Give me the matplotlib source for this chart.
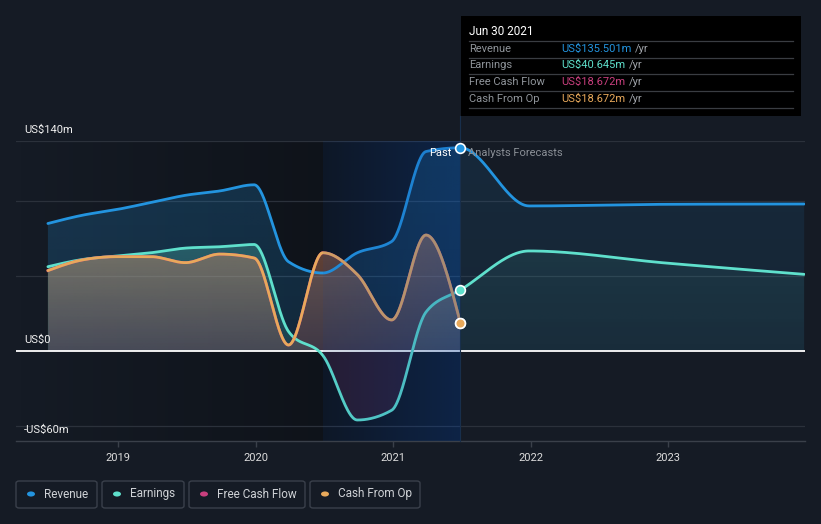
import numpy as np
import matplotlib
matplotlib.use("Agg")
import matplotlib.pyplot as plt
from matplotlib.colors import to_rgb
from matplotlib.patches import Rectangle, FancyBboxPatch, Circle
from matplotlib.transforms import blended_transform_factory

# ---------------- data ----------------
past_x = [2018.49, 2018.74, 2018.99, 2019.24, 2019.49, 2019.74, 2019.99,
          2020.24, 2020.49, 2020.74, 2020.99, 2021.24, 2021.49]
forecast_x = [2021.99, 2022.99, 2023.99]

revenue_past = [85.0, 90.5, 94.3, 99.0, 103.8, 106.7, 110.8, 59.5, 52.0, 65.5, 73.0, 133.0, 135.501]
revenue_forecast = [96.7, 97.8, 98.0]
earnings_past = [56.2, 61.0, 63.3, 65.5, 68.6, 69.5, 71.0, 13.0, -3.0, -46.0, -39.5, 26.0, 40.645]
earnings_forecast = [66.7, 58.6, 51.1]
fcf_past = [53.6, 60.7, 62.9, 62.9, 58.9, 64.6, 62.0, 4.0, 65.5, 51.0, 20.7, 77.3, 18.672]
cfo_past = [53.6, 60.7, 62.9, 62.9, 58.9, 64.6, 62.0, 4.0, 65.5, 51.0, 20.7, 77.3, 18.672]

year_ticks = [2019, 2020, 2021, 2022, 2023]
grid_values = [140, 100, 50, -50]
y_labels = [(140, "US$140m"), (0, "US$0"), (-60, "-US$60m")]
series_names = ["Revenue", "Earnings", "Free Cash Flow", "Cash From Op"]
tooltip_title = "Jun 30 2021"
tooltip_values = ["US$135.501m", "US$40.645m", "US$18.672m", "US$18.672m"]

C_REV = "#2394df"
C_EARN = "#5fe0cc"
C_FCF = "#c93f7e"
C_CFO = "#e8a95b"
colors = [C_REV, C_EARN, C_FCF, C_CFO]
BG = "#151b25"

W, H = 821, 524
X0, X1 = 2018.258, 2023.996
NOW = past_x[-1]
BAND0 = past_x[-5]


def fx(px):
    return px / W


def fy(py):
    return 1 - py / H


def monotone(x, y, n=60):
    """d3 curveMonotoneX style cubic Hermite smoothing of a polyline."""
    x = np.asarray(x, float)
    y = np.asarray(y, float)
    h = np.diff(x)
    s = np.diff(y) / h
    m = np.zeros_like(y)
    for i in range(1, len(x) - 1):
        p = (s[i - 1] * h[i] + s[i] * h[i - 1]) / (h[i - 1] + h[i])
        m[i] = (np.sign(s[i - 1]) + np.sign(s[i])) * min(abs(s[i - 1]), abs(s[i]), 0.5 * abs(p))
    m[0] = (3 * s[0] - m[1]) / 2
    m[-1] = (3 * s[-1] - m[-2]) / 2
    xs, ys = [], []
    for i in range(len(h)):
        t = np.linspace(0, 1, n, endpoint=(i == len(h) - 1))
        h00 = 2 * t**3 - 3 * t**2 + 1
        h10 = t**3 - 2 * t**2 + t
        h01 = -2 * t**3 + 3 * t**2
        h11 = t**3 - t**2
        xs.append(x[i] + t * h[i])
        ys.append(h00 * y[i] + h10 * h[i] * m[i] + h01 * y[i + 1] + h11 * h[i] * m[i + 1])
    return np.concatenate(xs), np.concatenate(ys)


def grad_fill(ax, x, ytop, ybot, color, a_low, a_high, v_low, v_high, zorder):
    coll = ax.fill_between(x, ytop, ybot, facecolor="none", edgecolor="none", lw=0)
    paths = coll.get_paths()
    if not paths:
        return
    ny = 200
    img = np.zeros((ny, 2, 4))
    img[..., :3] = to_rgb(color)
    img[..., 3] = np.linspace(a_low, a_high, ny)[:, None]
    im = ax.imshow(img, extent=[X0, X1, v_low, v_high], origin="lower",
                   aspect="auto", interpolation="bilinear", zorder=zorder)
    im.set_clip_path(paths[0], transform=ax.transData)
    coll.remove()


fig = plt.figure(figsize=(W / 100, H / 100), dpi=100)
fig.patch.set_facecolor(BG)
plt.rcParams["font.family"] = ["Roboto", "DejaVu Sans"]

ax = fig.add_axes([fx(16), fy(441), (805 - 16) / W, 300 / H])
ax.set_facecolor("none")
ax.set_xlim(X0, X1)
ax.set_ylim(-60, 140)
for sp in ["top", "right", "left"]:
    ax.spines[sp].set_visible(False)
ax.spines["bottom"].set_color("#3a404a")
ax.spines["bottom"].set_linewidth(1.0)
ax.set_yticks([])
ax.set_xticks(year_ticks)
ax.set_xticklabels([str(y) for y in year_ticks])
ax.tick_params(axis="x", length=4, width=1, color="#3a404a", labelcolor="#dcdcdc",
               labelsize=8, pad=4.5)

# past-darkening horizontal gradient
dark = np.zeros((2, 200, 4))
dark[..., 3] = np.linspace(0.0, 0.30, 200)[None, :]
ax.imshow(dark, extent=[X0, BAND0, -60, 140], origin="lower", aspect="auto",
          interpolation="bilinear", zorder=0.2)
ax.add_patch(Rectangle((BAND0, -60), NOW - BAND0, 200, facecolor="black", alpha=0.30,
                       lw=0, zorder=0.2))

# grid
for g in grid_values:
    ax.axhline(g, color="#2b313b", lw=0.9, zorder=0.5)

# smooth curves
all_x = past_x + forecast_x
rx, ry = monotone(all_x, revenue_past + revenue_forecast)
ex, ey = monotone(all_x, earnings_past + earnings_forecast)
fxs, fys = monotone(past_x, fcf_past)
cx, cy = monotone(past_x, cfo_past)

pm = rx <= NOW + 1e-9
fm = rx >= NOW - 1e-9

# revenue fills
grad_fill(ax, rx[pm], ry[pm], 0, C_REV, 0.17, 0.24, 0, 140, 1.0)
grad_fill(ax, rx[fm], ry[fm], 0, C_REV, 0.09, 0.12, 0, 140, 1.0)
# earnings fills (positive part)
eyp = np.maximum(ey, 0)
grad_fill(ax, ex[pm], eyp[pm], 0, C_EARN, 0.12, 0.40, 0, 140, 1.1)
grad_fill(ax, ex[fm], eyp[fm], 0, C_EARN, 0.04, 0.14, 0, 140, 1.1)
# free cash flow fill (down to negative earnings)
e_on_f = np.interp(fxs, ex, ey)
ax.fill_between(fxs, fys, np.minimum(e_on_f, 0), color=C_FCF, alpha=0.15, lw=0, zorder=1.2)
# cash from op fill
grad_fill(ax, cx, np.maximum(cy, 0), 0, C_CFO, 0.10, 0.52, 0, 140, 1.3)

# zero line
ax.axhline(0, color="#ffffff", lw=1.3, zorder=2)

# lines
ax.plot(rx, ry, color=C_REV, lw=2.0, zorder=3, solid_capstyle="round")
ax.plot(ex, ey, color=C_EARN, lw=2.0, zorder=3, solid_capstyle="round")
ax.plot(fxs, fys, color=C_FCF, lw=2.0, zorder=3)
ax.plot(cx, cy, color=C_CFO, lw=2.0, zorder=3.1, solid_capstyle="round")

# highlighted last-12-months band (over the lines)
band = np.zeros((2, 200, 4))
band[..., :3] = to_rgb("#0d4aa8")
band[..., 3] = np.linspace(0.10, 0.32, 200)[None, :]
ax.imshow(band, extent=[BAND0, NOW, -60, 140], origin="lower", aspect="auto",
          interpolation="bilinear", zorder=3.5)

# vertical "now" line
ax.axvline(NOW, ymin=0, ymax=(441 - 116) / 300, color="#182f4c", lw=0.8, zorder=3.6,
           clip_on=False)

# markers at last actual
last = len(past_x) - 1
for vals, c in [(revenue_past, C_REV), (earnings_past, C_EARN), (fcf_past, C_FCF), (cfo_past, C_CFO)]:
    ax.plot([past_x[last]], [vals[last]], "o", ms=7, mfc=c, mec="white", mew=1.2, zorder=5)

# Past / Analysts Forecasts
ax.annotate("Past", xy=(NOW, 140), xycoords="data", xytext=(-9, -12), textcoords="offset pixels",
            ha="right", va="center", color="#ffffff", fontsize=8, zorder=6)
ax.annotate("Analysts Forecasts", xy=(NOW, 140), xycoords="data", xytext=(8, -12),
            textcoords="offset pixels", ha="left", va="center", color="#8a8f96", fontsize=8, zorder=6)

# y labels
trans = blended_transform_factory(ax.transAxes, ax.transData)
for v, lab in y_labels:
    ax.annotate(lab, xy=(0, v), xycoords=trans, xytext=(8, 8), textcoords="offset pixels",
                ha="left", va="baseline", color="#f0f0f0", fontsize=8, zorder=6)

# tooltip
fig.patches.append(Rectangle((fx(461), fy(116)), (801 - 461) / W, 100 / H, transform=fig.transFigure,
                             facecolor="#000000", edgecolor="none", zorder=10))
fig.text(fx(469), fy(31.5), tooltip_title, color="#ffffff", fontsize=8.5, va="center", ha="left", zorder=11)
sep_y = [40.7, 57.5, 74.3, 91.1, 108.0]
for sy in sep_y:
    fig.lines.append(plt.Line2D([fx(469), fx(793)], [fy(sy), fy(sy)], transform=fig.transFigure,
                                color="#3a3d42", lw=0.9, zorder=11))
row_y = [48.5, 65.3, 82.1, 99.0]
r = fig.canvas.get_renderer()
for name, val, c, yy in zip(series_names, tooltip_values, colors, row_y):
    fig.text(fx(469), fy(yy), name, color="#8f949a", fontsize=8, va="center", ha="left", zorder=11)
    t = fig.text(fx(561), fy(yy), val, color=c, fontsize=8, va="center", ha="left", zorder=11)
    bb = t.get_window_extent(renderer=r)
    fig.text(bb.x1 / W + fx(4), fy(yy), "/yr", color="#a0a4aa", fontsize=8, va="center", ha="left", zorder=11)

# legend boxes
boxes = [(16, 97), (102, 184), (189, 305), (310, 420)]
for (bx0, bx1), name, c in zip(boxes, series_names, colors):
    fig.patches.append(FancyBboxPatch((fx(bx0), fy(508)), (bx1 - bx0) / W, 27 / H,
                                      boxstyle="round,pad=0,rounding_size=0.004",
                                      transform=fig.transFigure, facecolor="none",
                                      edgecolor="#3a404b", lw=1.0, zorder=10))
    fig.patches.append(Circle((fx(bx0 + 15), fy(494)), 4 / W, transform=fig.transFigure,
                              facecolor=c, edgecolor="none", zorder=11))
    fig.text(fx(bx0 + 28), fy(494), name, color="#cfd2d6", fontsize=8.5, va="center", ha="left", zorder=11)

fig.savefig("out.png", dpi=100, facecolor=BG)
